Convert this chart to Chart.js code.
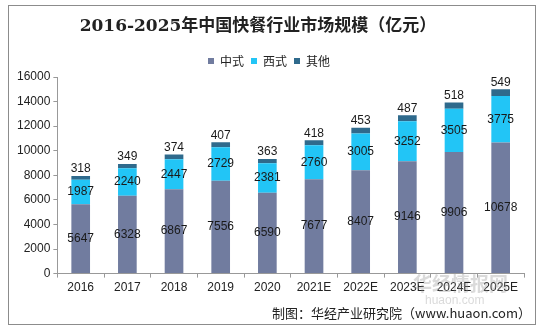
<!DOCTYPE html>
<html>
<head>
<meta charset="utf-8">
<script src="https://cdn.jsdelivr.net/npm/chart.js@4/dist/chart.umd.min.js"></script>
<style>
  html, body { margin: 0; padding: 0; background: #fff; }
  #wrap { width: 544px; height: 331px; position: relative; }
</style>
</head>
<body>
<div id="wrap"><canvas id="myChart" width="544" height="331"></canvas></div>
<script>
const years = ['2016', '2017', '2018', '2019', '2020', '2021E', '2022E', '2023E', '2024E', '2025E'];
const chinese = [5647, 6328, 6867, 7556, 6590, 7677, 8407, 9146, 9906, 10678];
const western = [1987, 2240, 2447, 2729, 2381, 2760, 3005, 3252, 3505, 3775];
const others = [318, 349, 374, 407, 363, 418, 453, 487, 518, 549];
const yTicks = [0, 2000, 4000, 6000, 8000, 10000, 12000, 14000, 16000];

const labelFont = '12px "Liberation Sans", Arial, sans-serif';

// frame, title, source line and value labels
const decorPlugin = {
    id: 'decor',
    beforeDraw(chart) {
        const ctx = chart.ctx;
        ctx.save();
        ctx.fillStyle = '#fff';
        ctx.fillRect(0, 0, chart.width, chart.height);
        ctx.strokeStyle = '#8c8c8c';
        ctx.lineWidth = 1;
        ctx.strokeRect(8.5, 5.5, 527, 319);
        ctx.restore();
    },
    afterDraw(chart) {
        const ctx = chart.ctx;
        ctx.save();
        ctx.fillStyle = '#222';
        ctx.font = 'bold 17px "DejaVu Serif", "Noto Sans CJK SC", serif';
        ctx.textAlign = 'center';
        ctx.textBaseline = 'middle';
        ctx.fillText('2016-2025年中国快餐行业市场规模（亿元）', 258, 27);

        // watermark
        ctx.fillStyle = 'rgba(150,150,150,0.35)';
        ctx.font = 'bold 19px "Noto Sans CJK SC", sans-serif';
        ctx.textAlign = 'left';
        ctx.fillText('华经情报网', 413, 284);
        ctx.font = '12px "Liberation Sans", sans-serif';
        ctx.fillText('huaon.com', 425, 301);

        ctx.fillStyle = '#222';
        ctx.font = '13px "Noto Sans CJK SC", sans-serif';
        ctx.textAlign = 'right';
        ctx.fillText('制图：华经产业研究院（www.huaon.com）', 531, 313);

        ctx.font = labelFont;
        ctx.textAlign = 'center';
        ctx.fillStyle = '#1a1a1a';
        chart.data.datasets.forEach((ds, i) => {
            const meta = chart.getDatasetMeta(i);
            meta.data.forEach((bar, j) => {
                const v = ds.data[j];
                if (i === 2) {
                    ctx.textBaseline = 'bottom';
                    ctx.fillText(v, bar.x, bar.y - 1);
                } else {
                    ctx.textBaseline = 'middle';
                    ctx.fillText(v, bar.x, (bar.y + bar.base) / 2);
                }
            });
        });
        ctx.restore();
    }
};

const ctx = document.getElementById('myChart').getContext('2d');
new Chart(ctx, {
    type: 'bar',
    data: {
        labels: years,
        datasets: [
            { label: '中式', data: chinese, backgroundColor: '#717c9f' },
            { label: '西式', data: western, backgroundColor: '#22c5f6' },
            { label: '其他', data: others, backgroundColor: '#2f6a8c' }
        ]
    },
    options: {
        responsive: false,
        animation: false,
        layout: { padding: { left: 14, right: 20, top: 48, bottom: 33 } },
        datasets: { bar: { categoryPercentage: 1, barPercentage: 0.4 } },
        scales: {
            x: {
                stacked: true,
                grid: { display: true, drawOnChartArea: false, offset: true, tickLength: 4, color: '#999' },
                border: { color: '#999' },
                ticks: { color: '#222', font: { family: '"Liberation Sans", Arial, sans-serif', size: 12 }, padding: 3, maxRotation: 0 }
            },
            y: {
                stacked: true,
                min: 0,
                max: 16000,
                afterBuildTicks: axis => { axis.ticks = yTicks.map(v => ({ value: v })); },
                grid: { display: true, drawOnChartArea: false, tickLength: 4, color: '#999' },
                border: { color: '#999' },
                ticks: {
                    color: '#222', font: { family: '"Liberation Sans", Arial, sans-serif', size: 12 }, padding: 3,
                    callback: v => String(v)
                }
            }
        },
        plugins: {
            legend: {
                position: 'top',
                labels: {
                    boxWidth: 6, boxHeight: 6, padding: 7, color: '#222',
                    font: { family: '"Noto Sans CJK SC", sans-serif', size: 12 }
                }
            },
            title: { display: false },
            tooltip: { enabled: false }
        }
    },
    plugins: [decorPlugin]
});
</script>
</body>
</html>
